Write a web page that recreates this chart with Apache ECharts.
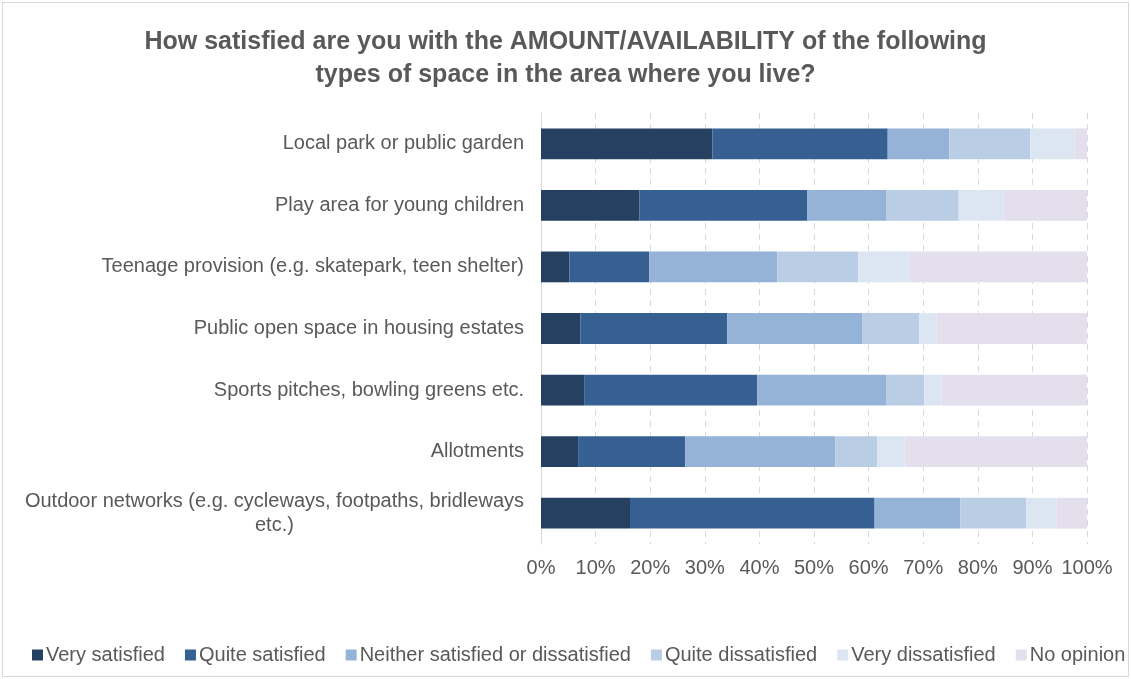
<!DOCTYPE html>
<html>
<head>
<meta charset="utf-8">
<script src="https://cdn.jsdelivr.net/npm/echarts@6/dist/echarts.min.js"></script>
<style>
  html, body { margin: 0; padding: 0; background: #fff; }
  #frame { position: absolute; left: 2px; top: 2px; width: 1125px; height: 673px; border: 1.5px solid #d9d9d9; }
  #chart { position: absolute; left: 0; top: 0; width: 1131px; height: 679px; }
</style>
</head>
<body>
<div id="frame"></div>
<div id="chart"></div>
<script>
// Survey categories (top to bottom)
const categories = [
  'Local park or public garden',
  'Play area for young children',
  'Teenage provision (e.g. skatepark, teen shelter)',
  'Public open space in housing estates',
  'Sports pitches, bowling greens etc.',
  'Allotments',
  'Outdoor networks (e.g. cycleways, footpaths, bridleways\netc.)'
];

// Response shares, percent of respondents per category
const verySatisfied      = [31.4, 18.0,  5.2,  7.2,  7.9,  6.8, 16.3];
const quiteSatisfied     = [32.1, 30.8, 14.6, 26.9, 31.7, 19.6, 44.8];
const neither            = [11.3, 14.5, 23.5, 24.7, 23.7, 27.5, 15.7];
const quiteDissatisfied  = [14.8, 13.2, 14.8, 10.5,  6.9,  7.7, 12.1];
const veryDissatisfied   = [ 8.1,  8.2,  9.2,  3.1,  3.2,  5.0,  5.5];
const noOpinion          = [ 2.3, 15.3, 32.7, 27.6, 26.6, 33.4,  5.6];

const seriesNames = [
  'Very satisfied',
  'Quite satisfied',
  'Neither satisfied or dissatisfied',
  'Quite dissatisfied',
  'Very dissatisfied',
  'No opinion'
];
const seriesValues = [verySatisfied, quiteSatisfied, neither, quiteDissatisfied, veryDissatisfied, noOpinion];
const colors = ['#254061', '#366092', '#95b3d7', '#b9cde5', '#dce6f2', '#e4dfec'];

const textColor = '#595959';
const font = 'Liberation Sans, Arial, sans-serif';

const chart = echarts.init(document.getElementById('chart'), null, { renderer: 'canvas' });

chart.setOption({
  animation: false,
  color: colors,
  title: {
    text: 'How satisfied are you with the AMOUNT/AVAILABILITY of the following\ntypes of space in the area where you live?',
    left: 'center',
    top: 21,
    textStyle: {
      fontFamily: font,
      fontSize: 25,
      fontWeight: 'bold',
      color: textColor,
      lineHeight: 33
    }
  },
  legend: {
    bottom: 14,
    left: 32,
    width: 1100,
    padding: 0,
    icon: 'rect',
    itemWidth: 11,
    itemHeight: 11,
    itemGap: 20,
    textStyle: { fontFamily: font, fontSize: 20, color: textColor, padding: [0, 0, 0, -2] },
    data: seriesNames
  },
  grid: {
    left: 541,
    right: 44,
    top: 113,
    height: 431,
    containLabel: false
  },
  xAxis: {
    type: 'value',
    min: 0,
    max: 100,
    interval: 10,
    axisLine: { show: false },
    axisTick: { show: false },
    axisLabel: {
      formatter: '{value}%',
      fontFamily: font,
      fontSize: 20,
      color: textColor,
      margin: 14
    },
    splitLine: {
      show: true,
      lineStyle: { color: '#d9d9d9', type: [6, 5], width: 1 }
    }
  },
  yAxis: {
    type: 'category',
    inverse: true,
    data: categories,
    axisLine: { show: true, lineStyle: { color: '#d9d9d9', width: 1 } },
    axisTick: { show: false },
    axisLabel: {
      margin: 17,
      formatter: function (v) {
        return v.split('\n').map(function (line) { return '{c|' + line + '}'; }).join('\n');
      },
      rich: {
        c: {
          fontFamily: font,
          fontSize: 20,
          color: textColor,
          align: 'center',
          lineHeight: 24
        }
      }
    }
  },
  series: seriesNames.map(function (name, i) {
    return {
      name: name,
      type: 'bar',
      stack: 'total',
      barCategoryGap: '50%',
      data: seriesValues[i],
      itemStyle: { color: colors[i] },
      emphasis: { disabled: true }
    };
  })
});
</script>
</body>
</html>
